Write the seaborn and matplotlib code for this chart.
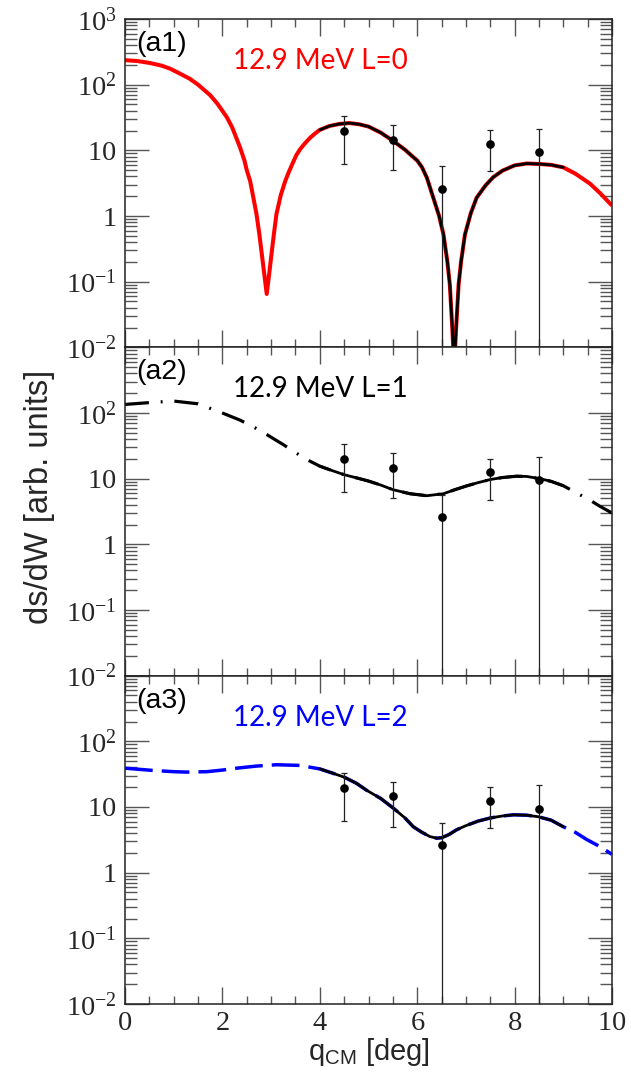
import numpy as np
import pandas as pd
import matplotlib
matplotlib.use("Agg")
import matplotlib.pyplot as plt
import seaborn as sns
from matplotlib.ticker import FixedLocator, FuncFormatter, LogLocator, NullFormatter, MultipleLocator

# ---- measured cross sections (same data set in all three panels) ----
theta_data = [4.5, 5.5, 6.5, 7.5, 8.5]
xsec_data = [19.7, 14.6, 2.6, 12.5, 9.4]
xsec_err = [13.5, 9.6, 3.1, 7.7, 12.1]

# ---- DWBA curves, 12.9 MeV ----
theta_L0 = [0.0, 0.25, 0.51, 0.75, 0.92, 1.1, 1.33, 1.5, 1.75, 1.9, 2.09, 2.2,
            2.36, 2.45, 2.5, 2.57, 2.63, 2.7, 2.76, 2.81, 2.86, 2.91, 2.96, 3.01,
            3.06, 3.11, 3.2, 3.29, 3.36, 3.44, 3.52, 3.6, 3.7, 3.8, 3.9, 4.0, 4.2,
            4.4, 4.6, 4.8, 5.0, 5.25, 5.5, 5.75, 5.9, 6.0, 6.1, 6.2, 6.33, 6.45,
            6.54, 6.62, 6.67, 6.72, 6.76, 6.80, 6.85, 6.9, 6.98, 7.1, 7.22, 7.4,
            7.56, 7.75, 8.0, 8.25, 8.5, 8.75, 9.0, 9.25, 9.55, 9.75, 10.0]
xsec_L0 = [236, 229, 214, 195, 176, 151, 123, 100, 69, 51, 32, 22.4,
           11.2, 7.1, 5.0, 3.4, 2.0, 1.07, 0.52, 0.26, 0.13, 0.065, 0.13, 0.27,
           0.55, 1.07, 2.1, 3.4, 4.6, 6.3, 8.5, 10.5, 12.9, 15.5, 18.0, 20.5, 23.5,
           25.2, 26.0, 25.0, 23.0, 18.6, 14.0, 10.2, 8.1, 7.0, 5.5, 3.8, 1.9, 1.0,
           0.52, 0.2, 0.09, 0.02, 0.005, 0.02, 0.09, 0.2, 0.52, 1.1, 1.9, 2.9,
           3.9, 4.9, 5.9, 6.3, 6.2, 6.0, 5.5, 4.4, 3.1, 2.25, 1.44]

theta_L1 = [0.0, 0.5, 1.0, 1.5, 2.0, 2.36, 2.7, 2.91, 3.25, 3.5, 3.73, 4.0, 4.25,
            4.5, 4.75, 5.0, 5.25, 5.5, 5.85, 6.2, 6.54, 6.75, 7.0, 7.25, 7.5,
            7.75, 8.04, 8.25, 8.52, 8.75, 9.0, 9.34, 9.55, 9.75, 10.0]
xsec_L1 = [135, 144, 152, 138, 100, 78, 58, 47, 33, 25, 19.6, 15.5, 13.3,
           11.5, 10.3, 9.2, 8.0, 6.8, 5.9, 5.5, 5.9, 6.7, 7.7, 8.7, 9.7,
           10.4, 10.9, 10.8, 10.0, 9.1, 7.8, 5.7, 4.7, 3.8, 3.0]

theta_L2 = [0.0, 0.58, 1.0, 1.27, 1.68, 2.0, 2.29, 2.7, 3.11, 3.59, 4.0, 4.25,
            4.5, 4.75, 4.96, 5.25, 5.51, 5.75, 5.92, 6.1, 6.26, 6.4, 6.5, 6.65,
            6.81, 7.0, 7.25, 7.5, 7.75, 7.98, 8.25, 8.49, 8.75, 9.0, 9.25, 9.48,
            9.75, 10.0]
xsec_L2 = [39, 36, 34.5, 34, 34.5, 36.5, 39, 42, 44, 43, 38, 33,
           28.5, 23, 18, 13.5, 9.6, 6.8, 5.0, 4.1, 3.55, 3.35, 3.4, 3.8,
           4.5, 5.2, 6.1, 6.8, 7.3, 7.6, 7.5, 7.1, 6.3, 5.0, 4.1, 3.2,
           2.5, 1.9]

fit_range = (4.0, 9.0)

panel_tags = ["(a1)", "(a2)", "(a3)"]
panel_titles = ["12.9 MeV L=0", "12.9 MeV L=1", "12.9 MeV L=2"]
panel_colors = ["#ff0000", "#000000", "#0000ff"]
y_decades = [1e-2, 1e-1, 1, 10, 1e2, 1e3]
x_major = [0, 2, 4, 6, 8, 10]

sns.set_theme(style="white")
plt.rcParams["font.family"] = ["Liberation Sans", "DejaVu Sans"]
plt.rcParams["axes.unicode_minus"] = False

fig, axes = plt.subplots(3, 1, figsize=(6.31, 10.78), dpi=100, sharex=True,
                         gridspec_kw=dict(hspace=0))
fig.subplots_adjust(left=125 / 631, right=612 / 631, top=1 - 19 / 1078,
                    bottom=1 - 1004 / 1078)

curves = [
    (theta_L0, xsec_L0, dict(color=panel_colors[0], linewidth=2.9, linestyle="-")),
    (theta_L1, xsec_L1, dict(color=panel_colors[1], linewidth=2.3,
                             linestyle=(0, (7.5, 3.7, 0.6, 3.7)))),
    (theta_L2, xsec_L2, dict(color=panel_colors[2], linewidth=2.5,
                             linestyle=(0, (8, 2.6)))),
]


def decade_label(v, pos, show_top):
    if v >= 999:
        return r"$\mathregular{10^{3}}$" if show_top else ""
    if abs(v - 100) < 1e-6:
        return r"$\mathregular{10^{2}}$"
    if abs(v - 10) < 1e-6:
        return r"$\mathregular{10}$"
    if abs(v - 1) < 1e-6:
        return r"$\mathregular{1}$"
    if abs(v - 0.1) < 1e-9:
        return r"$\mathregular{10^{-1}}$"
    if abs(v - 0.01) < 1e-9:
        return r"$\mathregular{10^{-2}}$"
    return ""


for i, ax in enumerate(axes):
    ax.set_yscale("log")
    ax.set_xlim(0, 10)
    ax.set_ylim(1e-2, 1e3)

    tx, ty, style = curves[i]
    df = pd.DataFrame({"theta": tx, "xsec": ty})
    sns.lineplot(data=df, x="theta", y="xsec", ax=ax, sort=False, estimator=None,
                 solid_capstyle="butt", solid_joinstyle="round", **style)
    fit = df[(df.theta >= fit_range[0]) & (df.theta <= fit_range[1])]
    sns.lineplot(data=fit, x="theta", y="xsec", ax=ax, sort=False, estimator=None,
                 color="black", linewidth=2.0, solid_joinstyle="round")

    ax.errorbar(theta_data, xsec_data, yerr=xsec_err, fmt="o", color="black",
                ecolor="#222222", elinewidth=0.9, capsize=2.0, capthick=0.9,
                markersize=5.2, zorder=5)

    ax.text(0.024, 0.924, panel_tags[i], transform=ax.transAxes, fontsize=20.5,
            ha="left", va="center", color="black")
    ax.text(0.222, 0.872, panel_titles[i], transform=ax.transAxes, fontsize=20,
            family=["Lato", "DejaVu Sans"], ha="left", va="center",
            color=panel_colors[i])

    ax.yaxis.set_major_locator(FixedLocator(y_decades))
    ax.yaxis.set_major_formatter(
        FuncFormatter(lambda v, p, s=(i == 0): decade_label(v, p, s)))
    ax.yaxis.set_minor_locator(LogLocator(base=10, subs=np.arange(2, 10), numticks=30))
    ax.yaxis.set_minor_formatter(NullFormatter())
    ax.xaxis.set_major_locator(FixedLocator(x_major))
    ax.xaxis.set_minor_locator(MultipleLocator(0.5))
    ax.xaxis.set_major_formatter(FuncFormatter(lambda v, p: r"$\mathregular{%d}$" % v))

    ax.tick_params(axis="y", which="major", direction="in", length=17, width=1.0,
                   color="#555555", left=True, right=True, labelsize=20.5, pad=6,
                   labelfontfamily="Liberation Serif")
    ax.tick_params(axis="y", which="minor", direction="in", length=8.5, width=1.0,
                   color="#555555", left=True, right=True)
    ax.tick_params(axis="x", which="major", direction="in", length=12, width=1.0,
                   color="#555555", bottom=True, top=True, labelsize=20.5, pad=5,
                   labelfontfamily="Liberation Serif")
    ax.tick_params(axis="x", which="minor", direction="in", length=6, width=1.0,
                   color="#555555", bottom=True, top=True)
    for sp in ax.spines.values():
        sp.set_color("#222222")
        sp.set_linewidth(1.1)
    ax.set_xlabel("")
    ax.set_ylabel("")
    if i < 2:
        ax.tick_params(axis="x", which="both", labelbottom=False)

fig.text(40 / 631, 1 - 497 / 1078, "ds/dW [arb. units]", rotation=90,
         ha="center", va="center", fontsize=23.5)
fig.text(368.5 / 631, 1 - 1052 / 1078, r"q$_{\mathregular{CM}}$ [deg]",
         ha="center", va="center", fontsize=21)

fig.savefig("out.png", dpi=100, facecolor="white")
